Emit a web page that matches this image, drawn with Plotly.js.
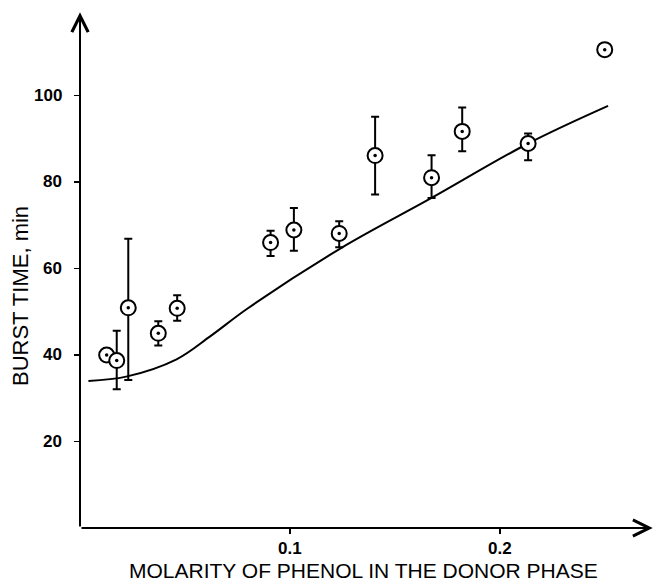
<!DOCTYPE html>
<html>
<head>
<meta charset="utf-8">
<script src="https://cdn.plot.ly/plotly-3.0.1.min.js"></script>
<style>html,body{margin:0;padding:0;background:#fff;}#chart{width:655px;height:583px;}</style>
</head>
<body>
<div id="chart"></div>
<script>
// Measured points (molarity, burst time in min)
var xData = [0.0127, 0.0175, 0.023, 0.0373, 0.0463, 0.0908, 0.1019, 0.1235, 0.1406, 0.1675, 0.1821, 0.2135, 0.25];
var yData = [40.0, 38.7, 50.9, 45.0, 50.8, 66.0, 68.9, 68.1, 86.1, 81.0, 91.7, 88.9, 110.6];
var errPlus  = [0, 6.9, 16.0, 2.8, 3.0, 2.7, 5.1, 2.8, 9.0, 5.2, 5.5, 2.3, 0];
var errMinus = [0, 6.6, 16.7, 2.8, 2.9, 3.1, 4.8, 3.2, 9.0, 4.7, 4.6, 3.9, 0];

// Theoretical curve
var xCurve = [0.004, 0.022, 0.046, 0.062, 0.080, 0.124, 0.1675, 0.2135, 0.2516];
var yCurve = [34.0, 35.0, 39.0, 44.3, 50.8, 64.6, 76.3, 88.9, 97.6];

var xTicks = [0.1, 0.2];
var xTickText = ['0.1', '0.2'];
var yTicks = [20, 40, 60, 80, 100];
var yTickText = ['20', '40', '60', '80', '100'];

var xMax = 0.273, yMax = 119.3;

var traces = [
  {x: xCurve, y: yCurve, mode: 'lines', line: {color: '#000', width: 2, shape: 'spline', smoothing: 1}, hoverinfo: 'skip', cliponaxis: false},
  {x: xData, y: yData, mode: 'markers',
   marker: {symbol: 'circle', size: 15, color: '#fff', line: {color: '#000', width: 2}},
   error_y: {type: 'data', symmetric: false, array: errPlus, arrayminus: errMinus, color: '#000', thickness: 2, width: 4},
   cliponaxis: false},
  {x: xData, y: yData, mode: 'markers', marker: {symbol: 'circle', size: 3.5, color: '#000'}, cliponaxis: false}
];

var tickFont = {size: 17, family: 'Liberation Sans, Arial, sans-serif', weight: 'bold', color: '#000'};

var annotations = [
  {xref: 'x', yref: 'y', axref: 'x', ayref: 'y', x: xMax * 0.9995, y: 0, ax: 0, ay: 0, text: '', showarrow: true,
   arrowhead: 5, arrowsize: 1.6, arrowwidth: 2, arrowcolor: '#000', standoff: 0, startstandoff: 0},
  {xref: 'x', yref: 'y', axref: 'x', ayref: 'y', x: 0, y: yMax * 0.9995, ax: 0, ay: 0, text: '', showarrow: true,
   arrowhead: 5, arrowsize: 1.6, arrowwidth: 2, arrowcolor: '#000', standoff: 0, startstandoff: 0},
  {xref: 'paper', yref: 'paper', x: 0.4956, y: -0.0833, xanchor: 'center', yanchor: 'middle', showarrow: false,
   text: 'MOLARITY OF PHENOL IN THE DONOR PHASE', font: {size: 21, family: 'Liberation Sans, Arial, sans-serif'}},
  {xref: 'paper', yref: 'paper', x: -0.1047, y: 0.4496, xanchor: 'center', yanchor: 'middle', showarrow: false, textangle: -90,
   text: 'BURST TIME, min', font: {size: 22, family: 'Liberation Sans, Arial, sans-serif'}}
];
// y tick labels, placed a little away from the axis
yTicks.forEach(function (v, i) {
  annotations.push({xref: 'paper', yref: 'y', x: -0.028, y: v, xanchor: 'right', yanchor: 'middle', showarrow: false,
                    text: yTickText[i], font: tickFont});
});

var layout = {
  width: 655, height: 583,
  margin: {l: 80, r: 2, t: 12, b: 55},
  paper_bgcolor: '#fff', plot_bgcolor: '#fff',
  showlegend: false,
  font: {family: 'Liberation Sans, Arial, sans-serif', color: '#000'},
  xaxis: {range: [0, xMax], tickvals: xTicks, ticktext: xTickText, ticks: 'outside', ticklen: 5, tickwidth: 1.5, tickcolor: '#000',
          showgrid: false, zeroline: false, showline: false, tickfont: tickFont},
  yaxis: {range: [0, yMax], tickvals: yTicks, showticklabels: false, ticks: 'outside', ticklen: 5, tickwidth: 1.5, tickcolor: '#000',
          showgrid: false, zeroline: false, showline: false},
  annotations: annotations
};

Plotly.newPlot('chart', traces, layout, {displayModeBar: false, staticPlot: true});
</script>
</body>
</html>
